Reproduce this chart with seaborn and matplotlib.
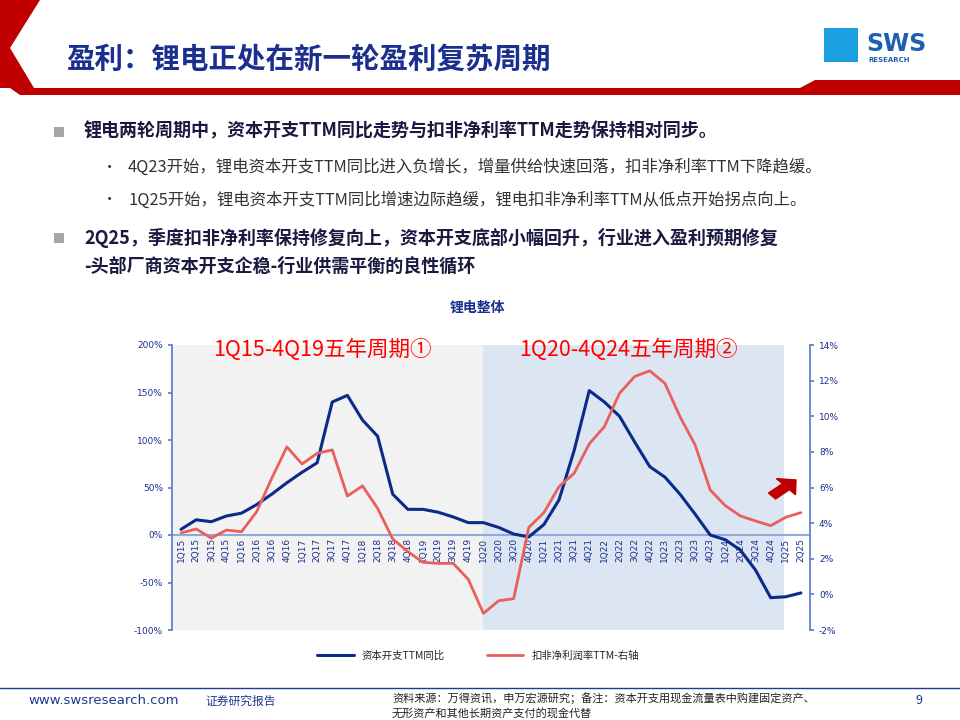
import numpy as np
import pandas as pd
import seaborn as sns
import matplotlib.pyplot as plt
from matplotlib.patches import Polygon, Rectangle, FancyArrow
from matplotlib.lines import Line2D

sns.set_theme(style="white")
plt.rcParams['font.family'] = ['Noto Sans CJK SC', 'DejaVu Sans']

quarters = [f"{q}Q{y}" for y in range(15, 26) for q in range(1, 5)][:42]
capex_yoy = [6, 16, 14, 20, 23, 32, 43, 55, 66, 76, 140, 147, 121, 104, 43, 27,
             27, 24, 19, 13, 13, 8, 1, -2, 11, 37, 89, 152, 140, 125, 98, 72,
             61, 43, 22, 0, -5, -16, -37, -66, -65, -61]
margin_ttm = [3.45, 3.67, 3.16, 3.61, 3.52, 4.64, 6.52, 8.28, 7.32, 7.92, 8.11, 5.52,
              6.09, 4.83, 3.11, 2.40, 1.80, 1.74, 1.74, 0.84, -1.07, -0.36, -0.24, 3.76,
              4.59, 6.05, 6.80, 8.45, 9.42, 11.29, 12.23, 12.55, 11.85, 9.98, 8.39, 5.86,
              4.98, 4.40, 4.12, 3.86, 4.33, 4.59]

df = pd.DataFrame({"idx": np.arange(len(quarters)), "q": quarters,
                   "capex": capex_yoy, "margin": margin_ttm})

W, H = 960, 720
fig = plt.figure(figsize=(9.6, 7.2), dpi=100)
fig.patch.set_facecolor("white")

def P(x, y):
    return (x / W, 1 - y / H)

def poly(pts, color):
    fig.patches.append(Polygon([P(*p) for p in pts], closed=True, transform=fig.transFigure,
                               facecolor=color, edgecolor="none", zorder=0))

red = "#c00000"
navy = "#1b2f8f"
# header band
poly([(0, 0), (40, 0), (10, 48), (34, 88), (0, 88)], red)
poly([(10, 88), (800, 88), (815, 80), (960, 80), (960, 95), (20, 95)], red)
fig.text(*P(66, 60), "盈利：锂电正处在新一轮盈利复苏周期", fontsize=20.5, fontweight="bold",
         color=navy, va="center")
# logo
fig.patches.append(Rectangle(P(824, 62), 34 / W, 34 / H, transform=fig.transFigure,
                             facecolor="#1aa0e0", edgecolor="none"))
fig.text(*P(866, 44), "SWS", fontsize=17, fontweight="bold", color="#1f5fb0", va="center",
         family=["DejaVu Sans"])
fig.text(*P(868, 60), "RESEARCH", fontsize=5, fontweight="bold", color="#1f5fb0", va="center",
         family=["DejaVu Sans"])

# bullets
fig.patches.append(Rectangle(P(54, 137), 10 / W, 10 / H, transform=fig.transFigure,
                             facecolor="#a6a6a6", edgecolor="none"))
fig.text(*P(84, 131), "锂电两轮周期中，资本开支TTM同比走势与扣非净利率TTM走势保持相对同步。",
         fontsize=13, fontweight="bold", color="#1a1a40", va="center")
fig.text(*P(102, 167), "•", fontsize=11, color="#333333", va="center")
fig.text(*P(128, 167), "4Q23开始，锂电资本开支TTM同比进入负增长，增量供给快速回落，扣非净利率TTM下降趋缓。",
         fontsize=11.8, color="#333333", va="center")
fig.text(*P(102, 200), "•", fontsize=11, color="#333333", va="center")
fig.text(*P(128, 200), "1Q25开始，锂电资本开支TTM同比增速边际趋缓，锂电扣非净利率TTM从低点开始拐点向上。",
         fontsize=11.8, color="#333333", va="center")
fig.patches.append(Rectangle(P(54, 243), 10 / W, 10 / H, transform=fig.transFigure,
                             facecolor="#a6a6a6", edgecolor="none"))
fig.text(*P(84, 238), "2Q25，季度扣非净利率保持修复向上，资本开支底部小幅回升，行业进入盈利预期修复",
         fontsize=13, fontweight="bold", color="#1a1a40", va="center")
fig.text(*P(84, 266), "-头部厂商资本开支企稳-行业供需平衡的良性循环",
         fontsize=13, fontweight="bold", color="#1a1a40", va="center")

# chart
ax = fig.add_axes([172 / W, 1 - 630 / H, (810 - 172) / W, (630 - 345) / H])
ax.set_facecolor("white")
ax.axvspan(-0.6, 19.95, color="#f2f2f2", zorder=0, lw=0)
ax.axvspan(19.95, 39.9, color="#dce6f2", zorder=0, lw=0)
ax.axhline(0, color="#8ea9db", lw=1.5, zorder=1)
sns.lineplot(data=df, x="idx", y="capex", ax=ax, color="#0b2a8a", lw=2.2, zorder=3)
ax.set_ylim(-100, 200)
ax.set_xlim(-0.6, 41.6)
ax.set_yticks(range(-100, 201, 50))
ax.set_yticklabels([f"{v}%" for v in range(-100, 201, 50)], fontsize=6.5, color=navy,
                   family=["DejaVu Sans"])
ax.set_xticks([])
ax.set_xlabel("")
ax.set_ylabel("")
for s in ["top", "bottom", "right"]:
    ax.spines[s].set_visible(False)
ax.spines["left"].set_color("#5b7fc7")
ax.tick_params(axis="y", length=3, color="#5b7fc7", left=True)

for i, q in enumerate(quarters):
    ax.text(i, -3, q, rotation=90, ha="center", va="top", fontsize=6.5, color=navy,
            family=["DejaVu Sans"], zorder=2)

ax2 = ax.twinx()
sns.lineplot(data=df, x="idx", y="margin", ax=ax2, color="#e8605c", lw=2, zorder=3)
ax2.set_ylim(-2, 14)
ax2.set_xlim(-0.6, 41.6)
ax2.set_yticks(range(-2, 15, 2))
ax2.set_yticklabels([f"{v}%" for v in range(-2, 15, 2)], fontsize=6.5, color=navy,
                    family=["DejaVu Sans"])
ax2.set_ylabel("")
for s in ["top", "bottom", "left"]:
    ax2.spines[s].set_visible(False)
ax2.spines["right"].set_color("#5b7fc7")
ax2.tick_params(axis="y", length=3, color="#5b7fc7", right=True)

fig.text(*P(478, 308), "锂电整体", fontsize=10, fontweight="bold", color=navy, ha="center",
         va="center")
fig.text(*P(322, 350), "1Q15-4Q19五年周期①", fontsize=15.5, color="#ff0000", ha="center",
         va="center")
fig.text(*P(628, 350), "1Q20-4Q24五年周期②", fontsize=15.5, color="#ff0000", ha="center",
         va="center")
fig.patches.append(FancyArrow(*P(772, 496), 24 / W, 16 / H, width=0.011, head_width=0.03,
                              head_length=0.014, transform=fig.transFigure,
                              color="#c00000", length_includes_head=True))

handles = [Line2D([], [], color="#0b2a8a", lw=2.2), Line2D([], [], color="#e8605c", lw=2)]
fig.legend(handles, ["资本开支TTM同比", "扣非净利润率TTM-右轴"], loc="center",
           bbox_to_anchor=P(478, 656), ncol=2, frameon=False, fontsize=7.5,
           handlelength=3.5, columnspacing=4)

# footer
fig.lines.append(Line2D([0, 1], [1 - 688 / H] * 2, transform=fig.transFigure,
                        color="#1f3a8f", lw=1))
fig.text(*P(28, 701), "www.swsresearch.com", fontsize=9.5, color="#1f3a8f", va="center",
         family=["DejaVu Sans"])
fig.text(*P(205, 701), "证券研究报告", fontsize=8.5, color="#1f3a8f", va="center")
fig.text(*P(392, 698), "资料来源：万得资讯，申万宏源研究；备注：资本开支用现金流量表中购建固定资产、",
         fontsize=8, color="#222222", va="center")
fig.text(*P(392, 713), "无形资产和其他长期资产支付的现金代替", fontsize=8, color="#222222",
         va="center")
fig.text(*P(916, 701), "9", fontsize=9, color="#1f3a8f", va="center")

fig.savefig("out.png", dpi=100)
